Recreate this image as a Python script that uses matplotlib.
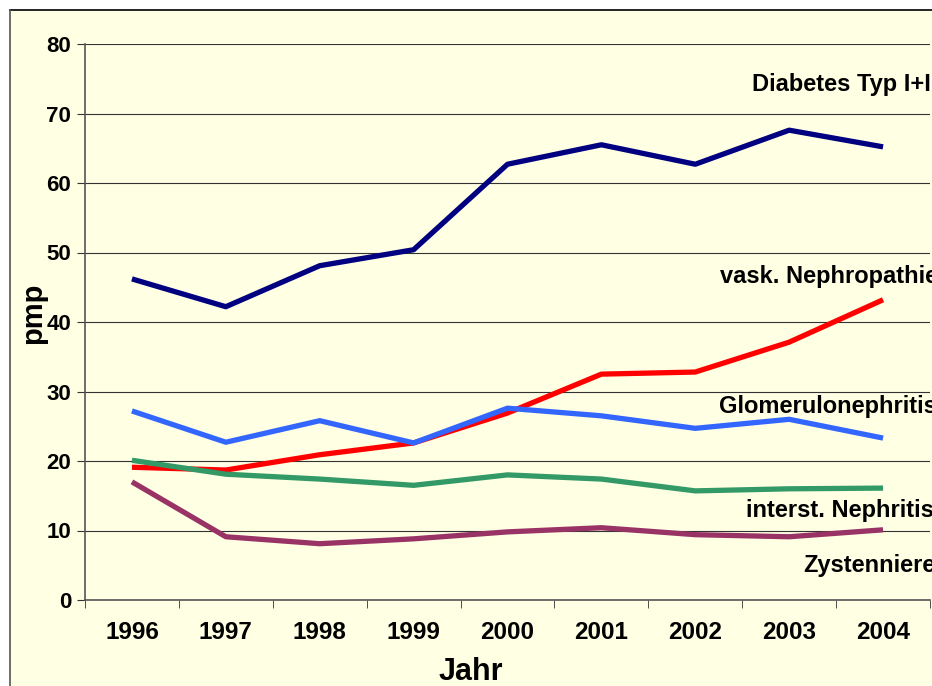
import matplotlib.pyplot as plt
from matplotlib.patches import Rectangle

years = ["1996", "1997", "1998", "1999", "2000", "2001", "2002", "2003", "2004"]

diabetes = [46.2, 42.2, 48.1, 50.4, 62.7, 65.5, 62.7, 67.6, 65.2]
vask = [19.1, 18.7, 20.9, 22.6, 26.9, 32.5, 32.8, 37.1, 43.2]
glomerulo = [27.2, 22.7, 25.8, 22.6, 27.6, 26.5, 24.7, 26.0, 23.3]
interst = [20.1, 18.1, 17.4, 16.5, 18.0, 17.4, 15.7, 16.0, 16.1]
zysten = [17.0, 9.1, 8.1, 8.8, 9.8, 10.4, 9.4, 9.1, 10.1]

series = [
    ("Diabetes Typ I+II", diabetes, "#000080"),
    ("vask. Nephropathie", vask, "#FF0000"),
    ("Glomerulonephritis", glomerulo, "#3366FF"),
    ("interst. Nephritis", interst, "#339966"),
    ("Zystenniere", zysten, "#993366"),
]
# label anchor (left x in data units, y value)
label_pos = [(6.60, 74.2), (6.26, 46.5), (6.25, 27.9), (6.54, 12.9), (7.15, 4.9)]

bg = "#FFFFE3"
plt.rcParams["font.family"] = ["Liberation Sans", "DejaVu Sans"]
plt.rcParams["font.weight"] = "bold"

fig = plt.figure(figsize=(9.32, 6.86), dpi=100)
fig.patch.set_facecolor("white")
# yellow chart area with black border on top/left
fig.patches.append(Rectangle((10 / 932, 0), 1, 1 - 10 / 686, transform=fig.transFigure,
                             facecolor=bg, edgecolor="none", zorder=-10))
fig.lines.append(plt.Line2D([10 / 932, 1], [1 - 10 / 686] * 2, transform=fig.transFigure,
                            color="black", lw=1.2, zorder=-5))
fig.lines.append(plt.Line2D([10 / 932] * 2, [0, 1 - 10 / 686], transform=fig.transFigure,
                            color="#555555", lw=1.2, zorder=-5))

ax = fig.add_axes([85 / 932, 86 / 686, (930 - 85) / 932, (600 - 44) / 686])
ax.patch.set_alpha(0)

x = list(range(len(years)))
for (name, vals, col), (lx, ly) in zip(series, label_pos):
    ax.plot(x, vals, color=col, lw=3.8, solid_capstyle="butt", zorder=3)
    ax.text(lx, ly, name, fontsize=17, fontweight="bold", ha="left", va="center",
            clip_on=False)

ax.set_xlim(-0.5, 8.5)
ax.set_ylim(0, 80)
ax.set_yticks(range(0, 81, 10))
ax.set_xticks(x)
ax.set_xticklabels(years)
ax.set_xticks([i - 0.5 for i in range(10)], minor=True)
ax.tick_params(axis="x", which="major", length=0, pad=15, labelsize=17.5)
ax.tick_params(axis="x", which="minor", length=6, color="#333333")
ax.tick_params(axis="y", length=6, color="#333333", labelsize=16, pad=4)
for lab in ax.get_xticklabels() + ax.get_yticklabels():
    lab.set_fontweight("bold")

ax.grid(axis="y", color="#333333", lw=0.8)
ax.set_axisbelow(True)
for s in ["top", "right"]:
    ax.spines[s].set_visible(False)
for s in ["left", "bottom"]:
    ax.spines[s].set_color("#555555")
    ax.spines[s].set_linewidth(1.2)

ax.set_xlabel("Jahr", fontsize=22, fontweight="bold")
ax.xaxis.set_label_coords((471 - 85) / (930 - 85), -0.103)
ax.set_ylabel("pmp", fontsize=21, fontweight="bold")
ax.yaxis.set_label_coords(-(85 - 47) / (930 - 85), 0.515)

fig.savefig("out.png", dpi=100, facecolor=fig.get_facecolor())
